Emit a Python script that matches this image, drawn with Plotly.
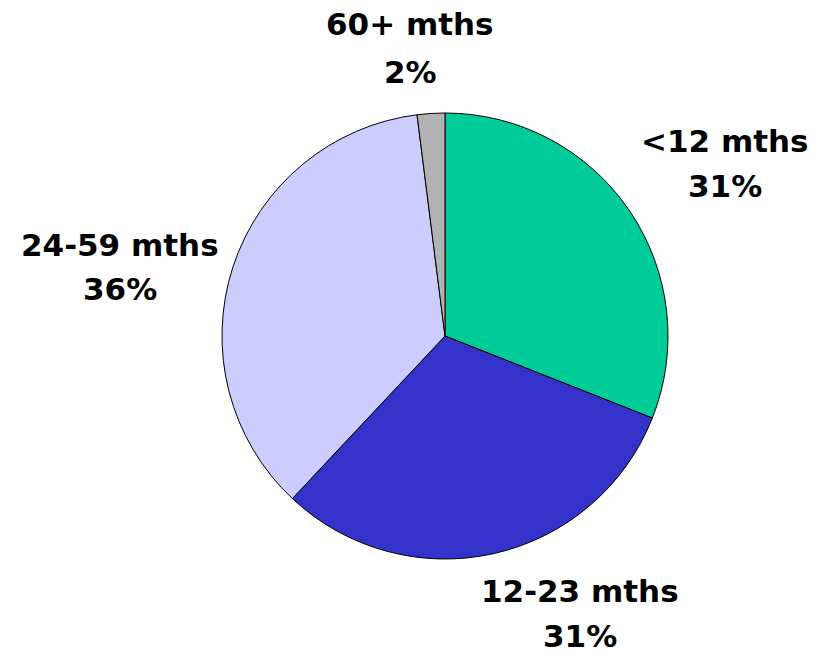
import plotly.graph_objects as go

# Age-of-debt breakdown
categories = ["<12 mths", "12-23 mths", "24-59 mths", "60+ mths"]
shares = [31, 31, 36, 2]
colors = ["#00CC99", "#3333CC", "#CCCCFF", "#B2B2B2"]

W, H = 829, 658
cx, cy, r = 445, 336, 223  # pie centre and radius in pixels

fig = go.Figure(
    go.Pie(
        labels=categories,
        values=shares,
        sort=False,
        direction="clockwise",
        rotation=0,
        textinfo="none",
        hoverinfo="label+percent",
        marker=dict(colors=colors, line=dict(color="black", width=1)),
        domain=dict(
            x=[(cx - r) / W, (cx + r) / W],
            y=[1 - (cy + r) / H, 1 - (cy - r) / H],
        ),
        showlegend=False,
    )
)

# label centres (pixels): x, y of name line, y of value line
label_pos = [(725, 141, 186), (580, 591, 636), (120, 245, 289), (410, 24, 72)]
font = dict(family="DejaVu Sans, Arial, sans-serif", size=31, color="black")
for name, val, (lx, ly1, ly2) in zip(categories, shares, label_pos):
    for txt, ly in ((name, ly1), (f"{val}%", ly2)):
        fig.add_annotation(
            x=lx / W, y=1 - ly / H,
            xref="paper", yref="paper",
            text=f"<b>{txt}</b>", showarrow=False,
            xanchor="center", yanchor="middle", font=font,
        )

fig.update_layout(
    width=W, height=H,
    margin=dict(l=0, r=0, t=0, b=0),
    paper_bgcolor="white", plot_bgcolor="white",
)
fig.write_html("out.html")
